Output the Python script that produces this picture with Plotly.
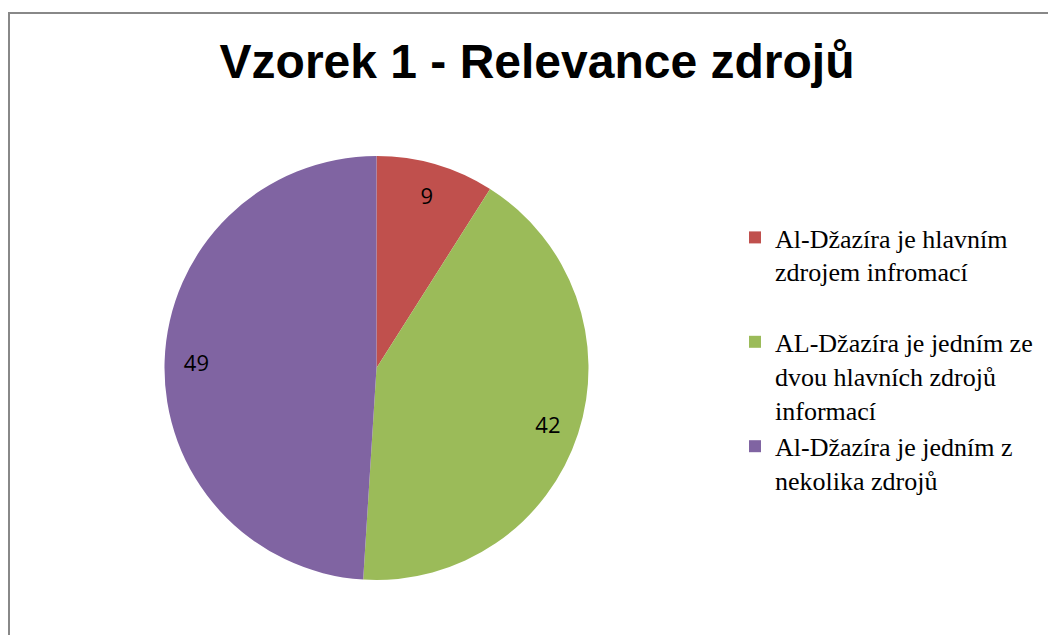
import plotly.graph_objects as go

title = "Vzorek 1 - Relevance zdrojů"
labels = [
    "Al-Džazíra je hlavním<br>zdrojem infromací<br> ",
    "AL-Džazíra je jedním ze<br>dvou hlavních zdrojů<br>informací",
    "Al-Džazíra je jedním z<br>nekolika zdrojů<br> ",
]
values = [9, 42, 49]
colors = ["#C0504D", "#9BBB59", "#8064A2"]

W, H = 1056, 635
OFF = 8  # page body margin, figure is drawn 8px in from the window corner


def px(x):
    return (x - OFF) / W


def py(y):
    return 1 - (y - OFF) / H


pie_x = [px(164), px(589)]
pie_y = [py(580), py(156)]

SERIF = "Liberation Serif, Times New Roman, Tinos, DejaVu Serif, serif"
SANS = "Liberation Sans, Arial, Arimo, Helvetica, sans-serif"

fig = go.Figure()

# main pie, no text
fig.add_trace(
    go.Pie(
        labels=labels,
        values=values,
        sort=False,
        direction="clockwise",
        rotation=0,
        marker=dict(colors=colors, line=dict(width=0)),
        textinfo="none",
        domain=dict(x=pie_x, y=pie_y),
        hoverinfo="label+value",
    )
)

# transparent ring on top just to place the value labels near the rim
fig.add_trace(
    go.Pie(
        labels=labels,
        values=values,
        sort=False,
        direction="clockwise",
        rotation=0,
        hole=0.7,
        marker=dict(colors=["rgba(0,0,0,0)"] * 3, line=dict(width=0)),
        textinfo="value",
        textposition="inside",
        insidetextorientation="horizontal",
        insidetextfont=dict(family="Open Sans", size=22, color="#000000"),
        domain=dict(x=pie_x, y=pie_y),
        showlegend=False,
        hoverinfo="skip",
    )
)

fig.update_layout(
    width=W,
    height=H,
    margin=dict(l=0, r=0, t=0, b=0),
    paper_bgcolor="white",
    plot_bgcolor="white",
    title=dict(
        text=title,
        x=px(537),
        y=py(61),
        xanchor="center",
        yanchor="middle",
        font=dict(family=SANS, size=48, color="#000000", weight="bold"),
    ),
    legend=dict(
        x=px(735),
        y=py(214),
        xanchor="left",
        yanchor="top",
        valign="top",
        font=dict(family=SERIF, size=26, color="#000000"),
        bgcolor="rgba(0,0,0,0)",
        itemclick=False,
    ),
    shapes=[
        dict(type="line", xref="paper", yref="paper",
             x0=px(8), x1=1.0, y0=py(13), y1=py(13),
             line=dict(color="#888888", width=2)),
        dict(type="line", xref="paper", yref="paper",
             x0=1 / W, x1=1 / W, y0=0, y1=py(13),
             line=dict(color="#888888", width=2)),
    ],
)

fig.write_html("out.html")
